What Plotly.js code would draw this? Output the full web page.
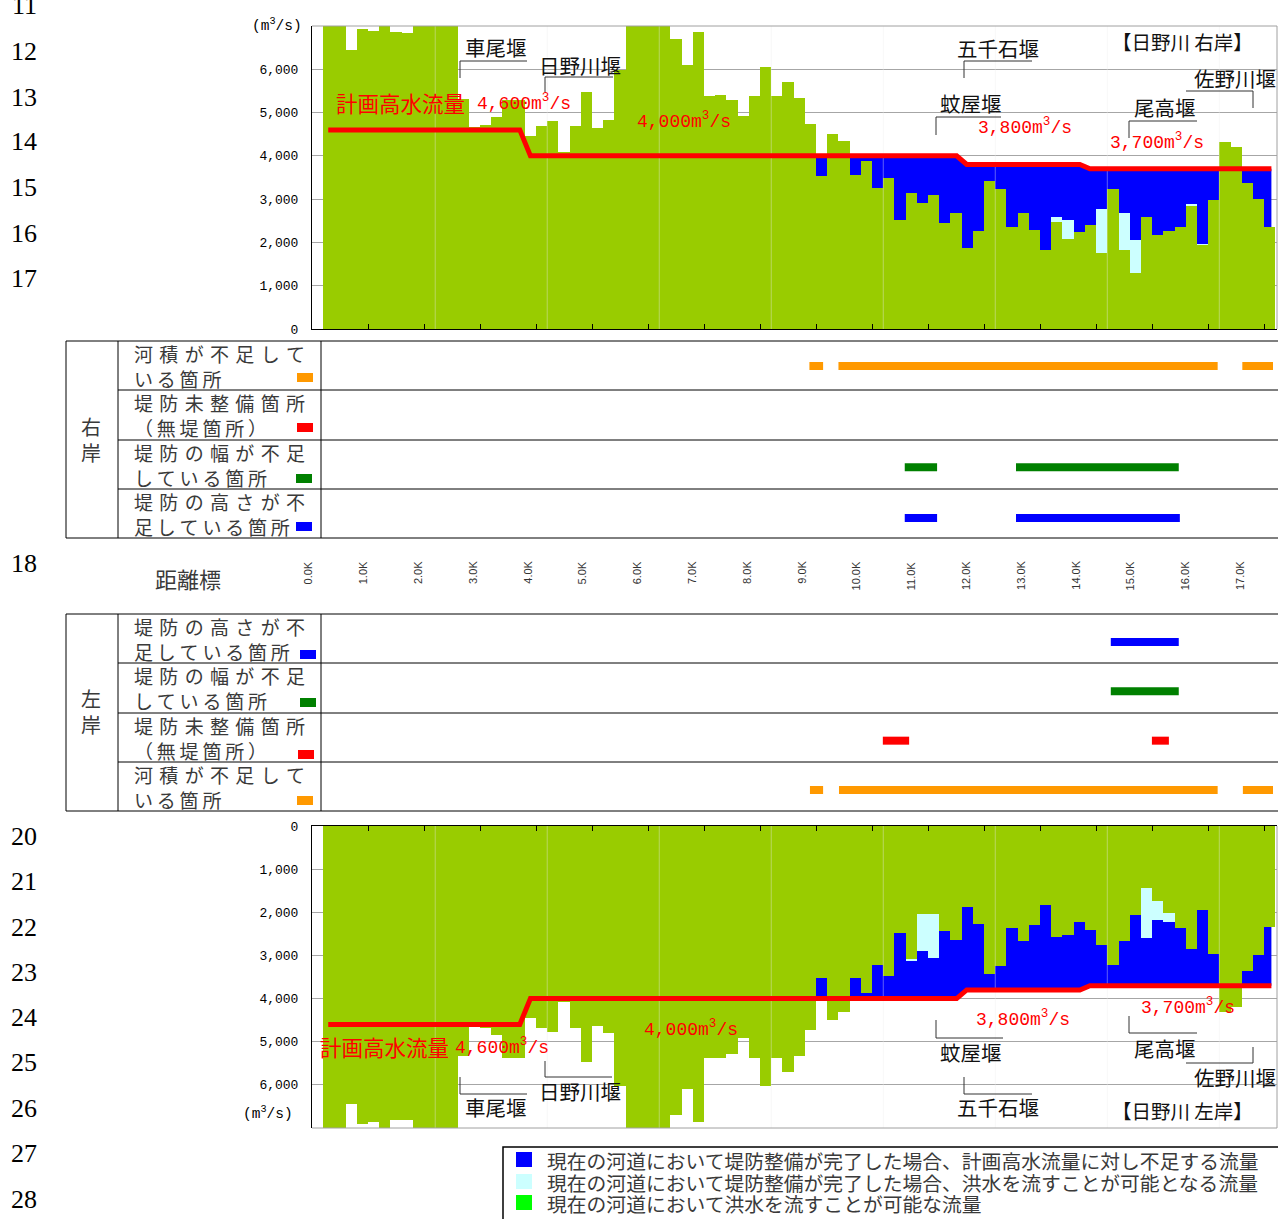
<!DOCTYPE html>
<html><head><meta charset="utf-8">
<script src="https://cdn.plot.ly/plotly-3.0.1.min.js"></script>
<style>html,body{margin:0;padding:0;background:#fff;}#chart{width:1278px;height:1219px;}</style>
</head><body><div id="chart"></div>
<script>
// ---------------- DATA ----------------
const distCenters = [0.3,0.5,0.7,0.9,1.1,1.3,1.5,1.7,1.9,2.1,2.3,2.5,2.7,2.9,3.1,3.3,3.5,3.7,3.9,4.1,4.3,4.5,4.7,4.9,5.1,5.3,5.5,5.7,5.9,6.1,6.3,6.5,6.7,6.9,7.1,7.3,7.5,7.7,7.9,8.1,8.3,8.5,8.7,8.9,9.1,9.3,9.5,9.7,9.9,10.1,10.3,10.5,10.7,10.9,11.1,11.3,11.5,11.7,11.9,12.1,12.3,12.5,12.7,12.9,13.1,13.3,13.5,13.7,13.9,14.1,14.3,14.5,14.7,14.9,15.1,15.3,15.5,15.7,15.9,16.1,16.3,16.5,16.7,16.9,17.1];
// right bank (上段)
const rightPossible = [7200,7200,6450,6930,6890,7200,6850,6835,7200,7200,
 7200,7200,5320,4670,4720,4890,5300,5300,4470,4700,
 4800,4085,4700,5470,4640,4820,5980,7200,7200,7200,
 7200,6705,6105,6860,5390,5400,5290,4930,5375,6050,
 5375,5715,5340,4745,3530,4515,4340,3550,3885,3250,
 3495,2510,3150,2920,3085,2450,2670,1860,2260,3425,
 3240,2350,2670,2290,1815,2475,2075,2245,2410,1750,
 3240,1830,1305,2595,2180,2260,2365,2850,1930,2970,
 4325,4215,3380,3010,2350];
const rightAfterLevee = [0,0,0,0,0,0,0,0,0,0, 0,0,0,0,0,0,0,0,0,0, 0,0,0,0,0,0,0,0,0,0, 0,0,0,0,0,0,0,0,0,0,
 0,0,0,0,0,0,0,0,0,0, 0,0,0,0,0,0,0,0,0,0, 0,0,0,0,0,105,445,0,0,1015, 0,840,755,0,0,0,0,30,30,0, 0,0,0,0,0];
// left bank (下段)
const leftPossible = [7200,7200,6440,6900,6860,7200,6820,6820,7200,7200,
 7200,7200,5320,4645,4690,4845,5380,5380,4450,4685,
 4785,4070,4690,5460,4630,4800,6015,7200,7200,7200,
 7200,6690,6090,6860,5385,5385,5285,4920,5385,6035,
 5385,5705,5320,4730,3530,4490,4320,3530,3860,3220,
 3475,2490,3075,2030,2030,2440,2645,1875,2260,3430,
 3245,2355,2660,2290,1825,2570,2515,2215,2415,2755,
 3230,2670,2060,1440,1730,2015,2360,2860,1940,2975,
 4320,4205,3360,3000,2345];
const leftAfterLevee = [0,0,0,0,0,0,0,0,0,0, 0,0,0,0,0,0,0,0,0,0, 0,0,0,0,0,0,0,0,0,0, 0,0,0,0,0,0,0,0,0,0,
 0,0,0,0,0,0,0,0,0,0, 0,0,60,875,1030,0,0,0,0,0, 0,0,0,0,0,0,0,0,0,0, 0,0,0,1150,440,215,0,0,0,0, 0,0,0,0,0];
// 計画高水流量
const planKm = [0.29,3.71,3.90,11.51,11.69,13.71,13.89,17.13];
const planFlow = [4600,4600,4000,4000,3800,3800,3700,3700];
const sectionKm = [2.2,4.2,6.2,8.2,10.2,12.2,14.2,16.2];
const yTickVals = [0,1000,2000,3000,4000,5000,6000];
const yTickText = ['0','1,000','2,000','3,000','4,000','5,000','6,000'];
// 距離標
const distKm = [0,1,2,3,4,5,6,7,8,9,10,11,12,13,14,15,16,17];
const distLabels = ['0.0K','1.0K','2.0K','3.0K','4.0K','5.0K','6.0K','7.0K','8.0K','9.0K','10.0K','11.0K','12.0K','13.0K','14.0K','15.0K','16.0K','17.0K'];
// 区間 (km)
const rightRiverArea = [[9.15,9.40],[9.68,16.60],[17.05,17.61]];
const rightNoLevee = [];
const rightWidthShort = [[10.89,11.48],[12.92,15.89]];
const rightHeightShort = [[10.89,11.48],[12.92,15.91]];
const leftHeightShort = [[14.65,15.89]];
const leftWidthShort = [[14.65,15.89]];
const leftNoLevee = [[10.49,10.97],[15.40,15.71]];
const leftRiverArea = [[9.16,9.40],[9.69,16.60],[17.06,17.61]];

// ---------------- LAYOUT HELPERS ----------------
const W = 1278, H = 1219;
const PX = x => x / W, PY = y => 1 - y / H;
const C_GREEN = '#99CC00', C_CYAN = '#CCFFFF', C_BLUE = '#0000FF', C_RED = '#FF0000', C_ORANGE = '#FF9900', C_DGREEN = '#008000';
const CJK = 'Noto Sans CJK JP';
const MONO = 'Liberation Mono, Noto Sans CJK JP';

const annotations = [], shapes = [];
function txt(text, x, y, o) {
  o = o || {};
  annotations.push({xref:'paper', yref:'paper', x:PX(x), y:PY(y), text:text, showarrow:false,
    xanchor:o.xa || 'center', yanchor:o.ya || 'middle', align:o.align || 'left',
    font:{family:o.family || CJK, size:o.size || 18, color:o.color || '#000', weight:o.weight || 400}});
}
function line(x0, y0, x1, y1, color, width) {
  shapes.push({type:'line', xref:'paper', yref:'paper', x0:PX(x0), y0:PY(y0), x1:PX(x1), y1:PY(y1),
    line:{color:color || '#000', width:width || 1}});
}
function rect(x0, y0, x1, y1, fill) {
  shapes.push({type:'rect', xref:'paper', yref:'paper', x0:PX(x0), y0:PY(y0), x1:PX(x1), y1:PY(y1),
    fillcolor:fill, line:{width:0}});
}
const sp = s => s.split('').join('\u2004');   // justified first line
const sp2 = s => s.split('').join('\u2009');  // natural second line

// ---------------- TRACES ----------------
const traces = [];
function chart(possible, after, yBase, yOver) {
  const xa = yBase === 'y' ? 'x' : 'x2';
  traces.push({type:'scatter', mode:'lines', x:planKm, y:planFlow, xaxis:xa, yaxis:yBase,
    fill:'tozeroy', fillcolor:C_BLUE, line:{width:0, color:C_BLUE}, hoverinfo:'skip'});
  traces.push({type:'bar', x:distCenters, y:possible, width:0.2, xaxis:xa, yaxis:yOver,
    marker:{color:C_GREEN, line:{width:0}}});
  traces.push({type:'bar', x:distCenters, y:after, width:0.2, xaxis:xa, yaxis:yOver,
    marker:{color:C_CYAN, line:{width:0}}});
  const sx = [], sy = [];
  sectionKm.forEach(k => { sx.push(k, k, null); sy.push(0, 7000, null); });
  traces.push({type:'scatter', mode:'lines', x:sx, y:sy, xaxis:xa, yaxis:yOver,
    line:{color:'rgba(235,235,235,0.4)', width:1}, hoverinfo:'skip'});
  traces.push({type:'scatter', mode:'lines', x:planKm, y:planFlow, xaxis:xa, yaxis:yOver,
    line:{color:C_RED, width:5}, hoverinfo:'skip'});
}
chart(rightPossible, rightAfterLevee, 'y', 'y2');
chart(leftPossible, leftAfterLevee, 'y3', 'y4');

function segs(list, row, color, ya) {
  if (!list.length) return;
  const x = [], y = [];
  list.forEach(s => { x.push(s[0], s[1], null); y.push(row, row, null); });
  traces.push({type:'scatter', mode:'lines', x:x, y:y, xaxis:'x3', yaxis:ya, line:{color:color, width:8}, hoverinfo:'skip'});
}
segs(rightRiverArea, 0, C_ORANGE, 'y5');
segs(rightNoLevee, 1, C_RED, 'y5');
segs(rightWidthShort, 2, C_DGREEN, 'y5');
segs(rightHeightShort, 3, C_BLUE, 'y5');
segs(leftHeightShort, 0, C_BLUE, 'y6');
segs(leftWidthShort, 1, C_DGREEN, 'y6');
segs(leftNoLevee, 2, C_RED, 'y6');
segs(leftRiverArea, 3, C_ORANGE, 'y6');

// distance labels
distKm.forEach((k, i) => {
  annotations.push({xref:'x3', yref:'paper', x:k, y:PY(559), text:distLabels[i], showarrow:false, textangle:-90,
    xanchor:'center', yanchor:'top', font:{family:'Liberation Sans', size:11, color:'#333'}});
});

// ---------------- DECORATION ----------------
const lineNos = ['11','12','13','14','15','16','17','18','20','21','22','23','24','25','26','27','28'];
const lineNoY = [5,52,97,142,188,233,278,563,836,881,927,972,1017,1062,1108,1153,1199];
lineNos.forEach((n, i) => txt(n, 24, lineNoY[i], {family:'Liberation Serif', size:26}));

// chart frames (gray sides)
line(312, 26, 1277, 26, '#a0a0a0'); line(1277, 26, 1277, 329, '#a0a0a0');
line(312, 1128, 1277, 1128, '#a0a0a0'); line(1277, 826, 1277, 1128, '#a0a0a0');
// units
txt('(m<sup>3</sup>/s)', 277, 25, {family:MONO, size:14.5});
txt('(m<sup>3</sup>/s)', 268, 1113, {family:MONO, size:14.5});

// weirs top
const wf = {size:20.5, color:'#111'};
const bc = '#333';
txt('車尾堰', 496, 47, wf); line(460, 61, 527, 61, bc); line(460, 61, 460, 78, bc);
txt('日野川堰', 580, 65, wf); line(545, 77, 613, 77, bc); line(545, 77, 545, 92, bc);
txt('五千石堰', 998, 48, wf); line(964, 61, 1032, 61, bc); line(964, 61, 964, 78, bc);
txt('蚊屋堰', 971, 103, wf); line(936, 117, 1001, 117, bc); line(936, 117, 936, 135, bc);
txt('尾高堰', 1165, 107, wf); line(1129, 121, 1197, 121, bc); line(1129, 121, 1129, 138, bc);
txt('佐野川堰', 1235, 78, wf); line(1186, 91, 1253, 91, bc); line(1253, 91, 1253, 108, bc);
txt('【日野川 右岸】', 1182, 42, {size:19.5, color:'#111'});
// weirs bottom
txt('車尾堰', 496, 1107, wf); line(460, 1077, 460, 1094, bc); line(460, 1094, 527, 1094, bc);
txt('日野川堰', 580, 1091, wf); line(545, 1061, 545, 1077, bc); line(545, 1077, 612, 1077, bc);
txt('蚊屋堰', 971, 1052, wf); line(936, 1020, 936, 1038, bc); line(936, 1038, 1003, 1038, bc);
txt('五千石堰', 998, 1107, wf); line(964, 1077, 964, 1094, bc); line(964, 1094, 1032, 1094, bc);
txt('尾高堰', 1165, 1048, wf); line(1129, 1016, 1129, 1033, bc); line(1129, 1033, 1197, 1033, bc);
txt('佐野川堰', 1235, 1077, wf); line(1253, 1047, 1253, 1063, bc); line(1186, 1063, 1253, 1063, bc);
txt('【日野川 左岸】', 1182, 1110, {size:19.5, color:'#111'});

// red labels
const rf = {family:MONO, size:18, color:C_RED};
txt('計画高水流量', 401, 103, {size:21.5, color:C_RED});
txt('4,600m<sup>3</sup>/s', 475, 103, Object.assign({xa:'left'}, rf));
txt('4,000m<sup>3</sup>/s', 684, 120, rf);
txt('3,800m<sup>3</sup>/s', 1025, 127, rf);
txt('3,700m<sup>3</sup>/s', 1157, 142, rf);
txt('計画高水流量', 384, 1046, {size:21.5, color:C_RED});
txt('4,600m<sup>3</sup>/s', 453, 1046, Object.assign({xa:'left'}, rf));
txt('4,000m<sup>3</sup>/s', 691, 1028, rf);
txt('3,800m<sup>3</sup>/s', 1023, 1018, rf);
txt('3,700m<sup>3</sup>/s', 1188, 1006, rf);

// tables
function table(top, rowsText, swatches) {
  const b = top + 197;
  line(66, top, 1278, top); line(66, b, 1278, b);
  [49, 99, 148].forEach(d => line(118, top + d, 1278, top + d));
  line(66, top, 66, b); line(118, top, 118, b); line(321, top, 321, b);
  rowsText.forEach((t, i) => {
    txt(t, 132, top + 25 + i * 49.3, {xa:'left', size:19, color:'#3a3a3a'});
    const s = swatches[i];
    rect(s[0], s[1], s[0] + 16, s[1] + 9, s[2]);
  });
}
table(341, [
  sp('河積が不足して') + '<br>' + sp2('いる箇所'),
  sp('堤防未整備箇所') + '<br>' + sp2('（無堤箇所）'),
  sp('堤防の幅が不足') + '<br>' + sp2('している箇所'),
  sp('堤防の高さが不') + '<br>' + sp2('足している箇所')
], [[297, 373, C_ORANGE], [297, 423, C_RED], [296, 474, C_DGREEN], [296, 522, C_BLUE]]);
table(614, [
  sp('堤防の高さが不') + '<br>' + sp2('足している箇所'),
  sp('堤防の幅が不足') + '<br>' + sp2('している箇所'),
  sp('堤防未整備箇所') + '<br>' + sp2('（無堤箇所）'),
  sp('河積が不足して') + '<br>' + sp2('いる箇所')
], [[300, 650, C_BLUE], [300, 698, C_DGREEN], [298, 750, C_RED], [297, 796, C_ORANGE]]);
txt('右<br>岸', 91, 439, {size:20, color:'#3a3a3a', align:'center'});
txt('左<br>岸', 91, 712, {size:20, color:'#3a3a3a', align:'center'});
txt('距離標', 188, 578, {size:22, color:'#3a3a3a'});

// legend box
shapes.push({type:'rect', xref:'paper', yref:'paper', x0:PX(503), y0:PY(1147), x1:PX(1290), y1:PY(1232), line:{color:'#000', width:1.5}, fillcolor:'rgba(0,0,0,0)'});
rect(516, 1152, 532, 1167, C_BLUE);
rect(516, 1174, 532, 1189, C_CYAN);
rect(516, 1195, 532, 1210, '#00FF00');
const lf = {xa:'left', size:19.8, color:'#3a3a3a'};
txt('現在の河道において堤防整備が完了した場合、計画高水流量に対し不足する流量', 545, 1160, lf);
txt('現在の河道において堤防整備が完了した場合、洪水を流すことが可能となる流量', 545, 1182, lf);
txt('現在の河道において洪水を流すことが可能な流量', 545, 1203, lf);

// ---------------- AXES ----------------
const xDom = [312 / W, 1277 / W];
const xCommon = {domain:xDom, range:[0, 17.23], showline:true, linecolor:'#000', linewidth:1, ticks:'inside', ticklen:5,
  tickcolor:'#000', tick0:0, dtick:1, showticklabels:false, showgrid:false, zeroline:false, fixedrange:true};
const yCommon = {showline:true, linecolor:'#000', linewidth:1, showgrid:true, gridcolor:'#a6a6a6', gridwidth:1, zeroline:false,
  tickmode:'array', tickvals:yTickVals, ticktext:yTickText, ticks:'', ticklabelstandoff:10,
  tickfont:{family:'Liberation Mono', size:13, color:'#000'}, fixedrange:true};

const layout = {
  width:W, height:H, margin:{l:0, r:0, t:0, b:0}, paper_bgcolor:'#fff', plot_bgcolor:'rgba(0,0,0,0)',
  showlegend:false, barmode:'stack', bargap:0,
  xaxis:Object.assign({}, xCommon, {anchor:'y'}),
  yaxis:Object.assign({}, yCommon, {domain:[PY(329), PY(26)], range:[0, 7000], anchor:'x'}),
  yaxis2:{overlaying:'y', anchor:'x', range:[0, 7000], visible:false, fixedrange:true},
  xaxis2:Object.assign({}, xCommon, {anchor:'y3', side:'top'}),
  yaxis3:Object.assign({}, yCommon, {domain:[PY(1128), PY(826)], range:[7000, 0], anchor:'x2'}),
  yaxis4:{overlaying:'y3', anchor:'x2', range:[7000, 0], visible:false, fixedrange:true},
  xaxis3:{domain:[0, 1], range:[-5.620, 17.701], anchor:'y5', visible:false, fixedrange:true},
  yaxis5:{domain:[PY(538), PY(341)], range:[3.394, -0.493], anchor:'x3', visible:false, fixedrange:true},
  yaxis6:{domain:[PY(812), PY(614)], range:[3.446, -0.568], anchor:'x3', visible:false, fixedrange:true},
  annotations:annotations, shapes:shapes
};
Plotly.newPlot('chart', traces, layout, {staticPlot:true, displayModeBar:false});
</script></body></html>
